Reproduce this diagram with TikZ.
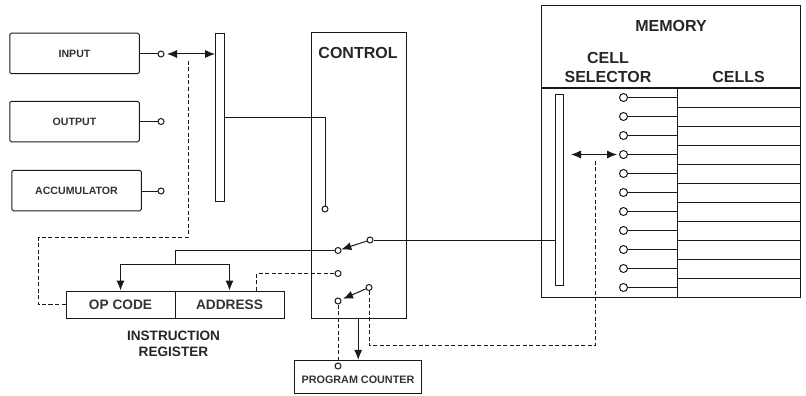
\documentclass[tikz,border=0pt]{standalone}
\usepackage{fontspec}
\setmainfont{Liberation Sans}
\usetikzlibrary{arrows.meta}
\tikzset{
  x=1pt,y=-1pt,
  wire/.style={line width=1pt,draw=black!90},
  boxx/.style={wire,rounded corners=1.5pt,inner sep=0pt,minimum height=40.5pt,minimum width=129.5pt,font=\bfseries\fontsize{10.6}{12}\selectfont,text=black!80},
  sq/.style={wire,inner sep=0pt,font=\bfseries\fontsize{13.7}{16}\selectfont,text=black!80},
  plain/.style={wire,inner sep=0pt},
  label/.style={inner sep=0pt,align=center,text=black!85},
  term/.style={circle,draw=black!90,fill=white,inner sep=0pt,minimum size=6pt,line width=1pt},
  ar/.style={wire,-{Latex[length=10pt,width=8pt]}},
  dar/.style={wire,{Latex[length=10pt,width=8pt]}-{Latex[length=10pt,width=8pt]}},
  dsh/.style={draw=black!90,dash pattern=on 4pt off 2.5pt,line width=1pt}
}
\begin{document}
\begin{tikzpicture}
\useasboundingbox (0,0) rectangle (806,396);
% left boxes
\node[boxx] (input) at (74.5,53.5) {INPUT};
\node[boxx] (output) at (74.5,121.5) {OUTPUT};
\node[boxx] (acc) at (76.5,190.5) {ACCUMULATOR};
\node[term] (tin) at (161,54) {};
\node[term] (tout) at (161,121.5) {};
\node[term] (tacc) at (161,191) {};
\draw[wire] (input.east |- tin) -- (tin);
\draw[wire] (output.east |- tout) -- (tout);
\draw[wire] (acc.east |- tacc) -- (tacc);
% bus
\node[plain,minimum width=8.5pt,minimum height=168pt] (bus) at (219.8,117.5) {};
\coordinate (dblL) at (167,54);
\draw[dar] (dblL) -- (bus.west |- dblL);
% control
\node[plain,minimum width=95pt,minimum height=285pt] (control) at (358.5,175.5) {};
\node[label,font=\bfseries\fontsize{16}{19}\selectfont] (ctitle) at (358,53) {CONTROL};
\node[term] (c1) at (325,209) {};
\draw[wire] (bus.east |- 0,117.5) -| (c1);
\node[term] (ca) at (338,250.5) {};
\node[term] (cb) at (370,240) {};
\node[term] (cc) at (338,273.5) {};
\node[term] (cd) at (338,301) {};
\node[term] (ce) at (369,287.5) {};
\draw[ar] (cb) -- (ca);
\draw[ar,shorten >=2pt] (ce) -- (cd);
% instruction register
\node[sq,minimum width=109pt,minimum height=27pt] (op) at (120.5,304.5) {OP CODE};
\node[sq,minimum width=109pt,minimum height=27pt] (addr) at (229.5,304.5) {ADDRESS};
\node[label,font=\bfseries\fontsize{13.6}{16}\selectfont] (ir) at (173.5,344) {INSTRUCTION\\REGISTER};
\coordinate (split) at (175,264);
\draw[wire] (ca) -- (175,250.5) -- (split);
\draw[ar] (split) -| (op.north);
\draw[ar] (split) -| (addr.north);
\draw[dsh] (addr.north -| 256,0) -- (256,273.5) -- (cc);
% dashed to input
\coordinate (dtop) at (188,61);
\draw[dsh] (dtop) -- (188,237) -- (38.5,237) -- (38.5,304.5) -- (op.west);
% program counter
\node[wire,inner sep=0pt,minimum width=127.5pt,minimum height=33.5pt] (pc) at (358.2,377.2) {};
\node[label,font=\bfseries\fontsize{10.8}{13}\selectfont,text=black!80] (pclabel) at (358,380) {PROGRAM COUNTER};
\draw[ar] (control.south -| pc.north) -- (pc.north);
\node[term] (pct) at (338,366) {};
\draw[dsh] (cd) -- (pct);
\coordinate (dtop2) at (595,160);
\draw[dsh] (ce) -- (369,345.5) -- (595,345.5) -- (dtop2);
% memory
\node[plain,minimum width=258.5pt,minimum height=291pt] (mem) at (671,151.5) {};
\coordinate (hdrL) at (mem.west |- 0,88);
\coordinate (hdrR) at (mem.east |- 0,88);
\draw[wire] (hdrL) -- (hdrR);
\node[label,font=\bfseries\fontsize{16}{19}\selectfont] (mtitle) at (671,25.5) {MEMORY};
\node[label,font=\bfseries\fontsize{16}{19}\selectfont] (csel) at (608,67.5) {CELL\\SELECTOR};
\node[label,font=\bfseries\fontsize{16}{19}\selectfont] (cells) at (738.5,77) {CELLS};
\coordinate (divT) at (677.7,88);
\coordinate (divB) at (677.7,297);
\draw[wire] (divT) -- (divB);
\node[plain,minimum width=8.5pt,minimum height=190.5pt] (sbus) at (559.5,189.75) {};
\draw[wire] (cb) -- (sbus.west |- cb);
\foreach \i in {0,...,10}{
  \node[term,minimum size=8pt] (s\i) at (623.5,97.5+19*\i) {};
  \draw[wire] (s\i.east) -- (677.7,97.5+19*\i);
}
\foreach \i in {1,...,10}{
  \draw[wire] (677.7,88+19*\i) -- (800.2,88+19*\i);
}
\coordinate (mdL) at (571,154.5);
\draw[dar,shorten >=2pt] (mdL) -- (s3.west);
\end{tikzpicture}
\end{document}
